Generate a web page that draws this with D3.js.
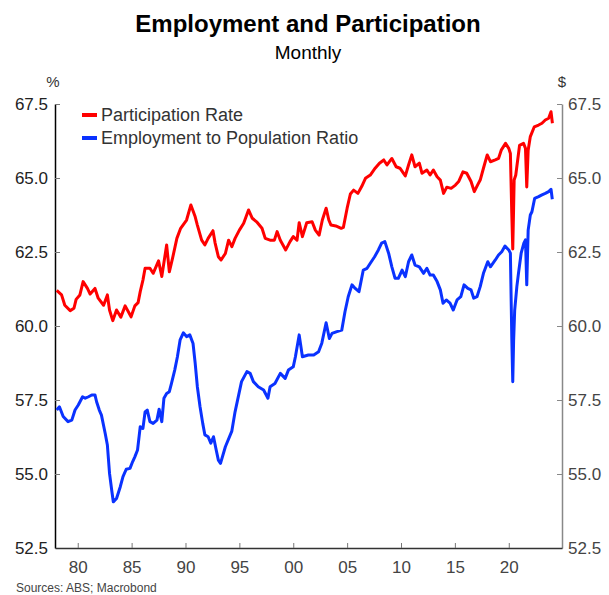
<!DOCTYPE html>
<head>
    <meta charset="UTF-8">
    <script src="https://cdnjs.cloudflare.com/ajax/libs/d3/7.8.5/d3.min.js"></script>
    <style>
        body { margin: 0; background: #fff; }
        text { font-family: "Liberation Sans", Arial, sans-serif; }
    </style>
</head>
<body>
    <svg id="chart"></svg>
    <script>
        //********** DATA *********************
        var seriesNames = ["Participation Rate", "Employment to Population Ratio"];
        var seriesColors = ["#ff0000", "#0a32ff"];

        // participation rate, % (decimal year)
        var prYear = [1978.05,1978.5,1978.8,1979.3,1979.65,1979.85,1980.2,1980.5,1980.9,1981.15,
            1981.6,1981.9,1982.4,1982.75,1982.95,1983.25,1983.6,1984.0,1984.4,1984.95,
            1985.3,1985.6,1985.8,1986.05,1986.25,1986.7,1987.0,1987.5,1987.8,1988.25,
            1988.5,1988.8,1989.2,1989.55,1990.1,1990.5,1990.9,1991.1,1991.5,1991.8,
            1992.1,1992.55,1992.75,1993.05,1993.3,1993.7,1994.0,1994.3,1994.6,1995.0,
            1995.4,1995.85,1996.2,1996.6,1997.1,1997.4,1997.85,1998.25,1998.5,1998.8,
            1999.3,1999.7,2000.0,2000.35,2000.55,2000.85,2001.25,2001.75,2002.05,2002.4,
            2002.7,2003.05,2003.3,2003.5,2003.95,2004.45,2004.65,2005.0,2005.3,2005.6,
            2006.0,2006.35,2006.7,2007.15,2007.6,2008.0,2008.4,2008.7,2009.15,2009.55,
            2009.9,2010.4,2010.7,2011.0,2011.3,2011.7,2011.95,2012.4,2012.7,2013.0,
            2013.35,2013.65,2013.95,2014.25,2014.65,2015.05,2015.35,2015.75,2016.1,2016.5,
            2016.8,2017.1,2017.35,2017.65,2018.0,2018.3,2018.75,2019.05,2019.3,2019.7,
            2020.0,2020.15,2020.28,2020.37,2020.45,2020.5,2020.65,2021.0,2021.37,2021.55,
            2021.67,2021.8,2022.0,2022.37,2022.77,2023.08,2023.39,2023.7,2023.92,2024.05];
        var prValue = [61.2,61.05,60.7,60.52,60.6,60.9,61.05,61.5,61.27,61.08,
            61.27,60.94,60.7,61.05,60.54,60.18,60.54,60.3,60.68,60.31,
            60.68,60.79,61.16,61.55,61.95,61.95,61.78,62.2,61.67,62.74,
            61.83,62.29,62.96,63.3,63.58,64.09,63.69,63.41,62.9,62.74,
            62.96,63.22,62.8,62.34,62.23,62.45,62.9,62.68,62.96,63.24,
            63.47,63.92,63.64,63.52,63.3,62.96,62.9,62.9,63.19,62.9,
            62.57,62.85,63.02,62.9,63.49,63.02,63.49,63.52,63.24,63.07,
            63.58,63.98,63.58,63.41,63.38,63.3,63.33,63.98,64.46,64.59,
            64.48,64.71,64.99,65.1,65.33,65.5,65.61,65.44,65.66,65.38,
            65.33,65.07,65.44,65.78,65.38,65.5,65.16,65.27,65.1,65.27,
            65.04,64.93,64.48,64.69,64.65,64.76,64.88,65.21,65.16,64.88,
            64.54,64.76,64.93,65.33,65.78,65.55,65.61,65.66,65.94,66.17,
            66.0,65.83,63.8,62.6,64.0,64.93,65.1,66.1,66.17,66.0,
            64.7,65.94,66.4,66.73,66.79,66.85,66.96,67.02,67.24,66.85];

        // employment to population ratio, %
        var epYear = [1978.05,1978.3,1978.65,1979.1,1979.45,1979.75,1980.05,1980.45,1980.7,1981.0,
            1981.3,1981.6,1981.75,1982.0,1982.2,1982.55,1982.75,1982.95,1983.15,1983.3,
            1983.6,1983.95,1984.2,1984.5,1984.85,1985.1,1985.3,1985.55,1985.8,1986.05,
            1986.25,1986.45,1986.7,1987.0,1987.35,1987.55,1987.8,1988.0,1988.25,1988.5,
            1988.7,1989.0,1989.25,1989.5,1989.8,1990.1,1990.4,1990.7,1990.9,1991.1,
            1991.35,1991.6,1991.8,1992.1,1992.35,1992.6,1992.85,1993.05,1993.25,1993.7,
            1994.3,1994.6,1995.2,1995.7,1996.0,1996.3,1996.75,1997.25,1997.65,1997.85,
            1998.3,1998.8,1999.25,1999.55,2000.0,2000.2,2000.55,2000.85,2001.4,2001.9,
            2002.35,2002.65,2003.05,2003.35,2003.6,2004.05,2004.5,2004.8,2005.1,2005.45,
            2005.75,2006.1,2006.5,2006.85,2007.15,2007.55,2007.9,2008.2,2008.5,2008.85,
            2009.15,2009.45,2009.75,2010.1,2010.4,2010.7,2011.0,2011.3,2011.7,2012.1,
            2012.4,2012.7,2013.0,2013.35,2013.65,2013.9,2014.2,2014.55,2014.85,2015.2,
            2015.55,2015.85,2016.2,2016.5,2016.75,2017.05,2017.35,2017.65,2018.05,2018.3,
            2018.75,2019.05,2019.35,2019.65,2020.0,2020.15,2020.28,2020.37,2020.45,2020.55,
            2020.75,2020.9,2021.15,2021.4,2021.55,2021.67,2021.8,2022.0,2022.15,2022.4,
            2022.77,2023.08,2023.39,2023.7,2023.92,2024.04];
        var epValue = [57.16,57.27,56.94,56.77,56.82,57.16,57.33,57.61,57.56,57.61,
            57.67,57.67,57.44,57.16,56.99,56.37,55.98,55.02,54.46,54.06,
            54.17,54.57,54.91,55.16,55.19,55.42,55.58,55.81,56.6,56.54,
            57.1,57.16,56.77,56.71,56.82,57.19,56.77,57.56,57.72,57.78,
            58.06,58.51,58.96,59.53,59.77,59.64,59.7,59.41,58.74,57.95,
            57.27,56.71,56.32,56.26,56.04,56.26,55.81,55.47,55.36,55.92,
            56.45,57.1,58.12,58.46,58.4,58.12,57.95,57.84,57.56,57.95,
            58.06,58.4,58.23,58.51,58.62,58.96,59.7,58.96,59.02,59.02,
            59.13,59.42,60.11,59.58,59.75,59.81,59.86,60.48,60.99,61.39,
            61.27,61.16,61.89,61.95,62.12,62.34,62.57,62.8,62.85,62.46,
            62.0,61.61,61.61,61.89,61.67,62.17,62.4,62.06,62.0,61.78,
            61.95,61.72,61.72,61.5,61.22,60.77,60.88,60.77,60.54,60.88,
            60.99,61.39,61.27,61.22,60.94,60.99,61.33,61.78,62.17,62.0,
            62.23,62.4,62.51,62.7,62.57,62.46,59.6,58.12,59.5,60.54,
            61.33,61.78,62.46,62.8,62.91,61.39,63.24,63.75,63.86,64.31,
            64.37,64.43,64.48,64.54,64.62,64.28];

        var yTicks = [52.5, 55.0, 57.5, 60.0, 62.5, 65.0, 67.5];
        var xTicks = [1980, 1985, 1990, 1995, 2000, 2005, 2010, 2015, 2020];

        //********** LAYOUT *********************
        var width = 609, height = 595;
        var margin = { left: 55, right: 47, top: 104, bottom: 47 };

        var svg = d3.select("#chart")
            .attr("width", width)
            .attr("height", height);

        var x = d3.scaleLinear()
            .domain([1977.89, 2024.94])
            .range([margin.left, width - margin.right]);

        var y = d3.scaleLinear()
            .domain([52.5, 67.5])
            .range([height - margin.bottom, margin.top]);

        // titles
        svg.append("text")
            .attr("x", 308).attr("y", 32)
            .attr("text-anchor", "middle")
            .style("font-size", "24px").style("font-weight", "bold")
            .text("Employment and Participation");
        svg.append("text")
            .attr("x", 308).attr("y", 59)
            .attr("text-anchor", "middle")
            .style("font-size", "19px")
            .text("Monthly");

        svg.append("text")
            .attr("x", 53).attr("y", 87)
            .attr("text-anchor", "middle")
            .style("font-size", "15px").style("fill", "#333")
            .text("%");
        svg.append("text")
            .attr("x", 562).attr("y", 87)
            .attr("text-anchor", "middle")
            .style("font-size", "15px").style("fill", "#333")
            .text("$");

        //********** AXES *********************
        var fmtY = d3.format(".1f");

        var left = svg.append("g")
            .attr("transform", "translate(" + margin.left + ",0)")
            .call(d3.axisLeft(y).tickValues(yTicks).tickFormat(fmtY)
                .tickSizeInner(-5).tickSizeOuter(0).tickPadding(7));
        left.select(".domain").attr("stroke", "#000").attr("stroke-width", 1.5);
        left.selectAll(".tick line").attr("stroke", "#777");
        left.selectAll(".tick text").style("font-size", "17px").style("fill", "#222")
            .style("font-family", "'Liberation Sans', Arial, sans-serif");

        var right = svg.append("g")
            .attr("transform", "translate(" + (width - margin.right) + ",0)")
            .call(d3.axisRight(y).tickValues(yTicks).tickFormat(fmtY)
                .tickSizeInner(-5).tickSizeOuter(0).tickPadding(6));
        right.select(".domain").attr("stroke", "#888").attr("stroke-width", 1.5);
        right.selectAll(".tick line").attr("stroke", "#888");
        right.selectAll(".tick text").style("font-size", "17px").style("fill", "#444")
            .style("font-family", "'Liberation Sans', Arial, sans-serif");

        var bottom = svg.append("g")
            .attr("transform", "translate(0," + (height - margin.bottom) + ")")
            .call(d3.axisBottom(x).tickValues(xTicks)
                .tickFormat(function (d) { return String(d).slice(2); })
                .tickSizeInner(-5).tickSizeOuter(0).tickPadding(13));
        bottom.select(".domain").attr("stroke", "#333").attr("stroke-width", 1.5);
        bottom.selectAll(".tick line").attr("stroke", "#777");
        bottom.selectAll(".tick text").style("font-size", "17px").style("fill", "#444")
            .style("font-family", "'Liberation Sans', Arial, sans-serif");

        //********** LINES *********************
        var line = d3.line()
            .x(function (d) { return x(d[0]); })
            .y(function (d) { return y(d[1]); });

        var series = [
            prYear.map(function (t, i) { return [t, prValue[i]]; }),
            epYear.map(function (t, i) { return [t, epValue[i]]; })
        ];

        svg.append("g").selectAll("path")
            .data(series)
            .enter()
            .append("path")
            .attr("d", line)
            .attr("fill", "none")
            .attr("stroke", function (d, i) { return seriesColors[i]; })
            .attr("stroke-width", 3)
            .attr("stroke-linejoin", "round");

        //********** LEGEND *********************
        var legend = svg.append("g").selectAll("g")
            .data(seriesNames)
            .enter()
            .append("g")
            .attr("transform", function (d, i) { return "translate(82," + (115 + i * 23) + ")"; });
        legend.append("line")
            .attr("x1", 0).attr("x2", 15)
            .attr("stroke", function (d, i) { return seriesColors[i]; })
            .attr("stroke-width", 4);
        legend.append("text")
            .attr("x", 19).attr("y", 6)
            .style("font-size", "18px").style("fill", "#333")
            .text(function (d) { return d; });

        svg.append("text")
            .attr("x", 16).attr("y", 592)
            .style("font-size", "12px").style("fill", "#444")
            .text("Sources: ABS; Macrobond");
    </script>
</body>
